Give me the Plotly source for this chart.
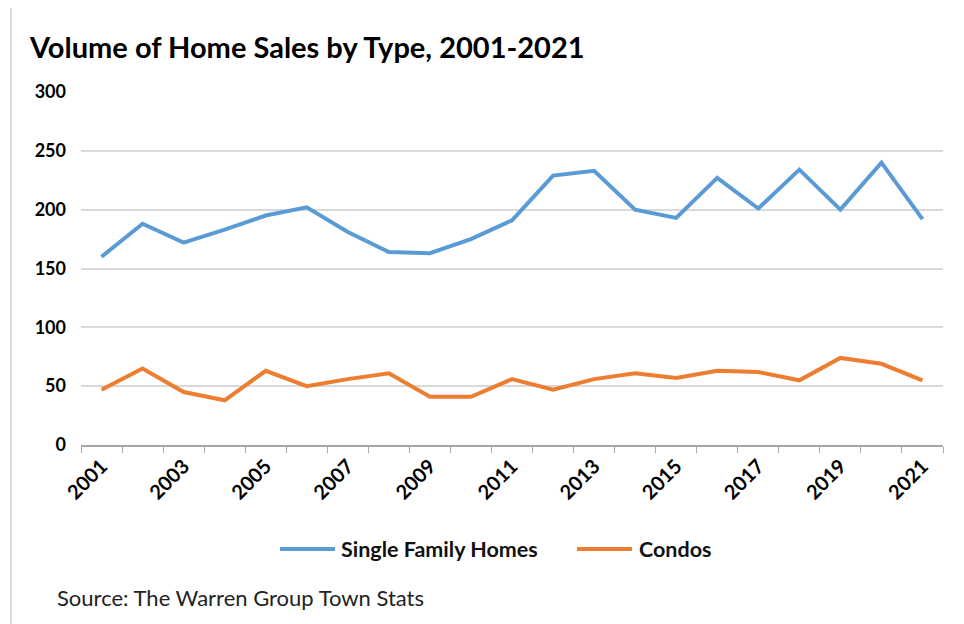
import plotly.graph_objects as go

years = [str(y) for y in range(2001, 2022)]
single_family = [160, 188, 172, 183, 195, 202, 181, 164, 163, 175, 191, 229, 233, 200, 193, 227, 201, 234, 200, 240, 192]
condos = [47, 65, 45, 38, 63, 50, 56, 61, 41, 41, 56, 47, 56, 61, 57, 63, 62, 55, 74, 69, 55]
y_ticks = [0, 50, 100, 150, 200, 250, 300]
series_names = ["Single Family Homes", "Condos"]
series_colors = ["#5B9BD5", "#ED7D31"]

FONT = "Lato, Open Sans, sans-serif"
xi = list(range(len(years)))

# page offset (body margin) compensation
OFF = 8
L, R_EDGE, T, B = 81, 943, 92, 445  # plot area in page px
PW, PH = R_EDGE - L, B - T

def px(x):
    return (x - L) / PW

def py(y):
    return (B - y) / PH

fig = go.Figure()
for name, vals, col in zip(series_names, [single_family, condos], series_colors):
    fig.add_trace(go.Scatter(x=xi, y=vals, mode="lines", name=name,
                             line=dict(color=col, width=4)))

fig.update_layout(
    width=964, height=624,
    margin=dict(l=L - OFF, r=964 - (R_EDGE - OFF), t=T - OFF, b=624 - (B - OFF)),
    paper_bgcolor="white", plot_bgcolor="white",
    font=dict(family=FONT, color="#000000"),
    title=dict(text="<b>Volume of Home Sales by Type, 2001-2021</b>", x=(30 - OFF) / 964, xanchor="left",
               xref="container", y=1 - (48 - OFF) / 624, yanchor="middle", font=dict(size=29, family=FONT)),
    showlegend=False,
)
fig.update_xaxes(
    range=[-0.5, 20.5], tickmode="array", tickvals=xi[::2], ticktext=[f"<b>{y}</b>" for y in years[::2]],
    tickangle=-45, tickfont=dict(size=20, family=FONT), ticks="", showgrid=False,
    showline=True, linecolor="#a6a6a6", linewidth=1.5,
    minor=dict(tickmode="linear", tick0=-0.5, dtick=1, ticks="outside", ticklen=6, tickcolor="#a6a6a6", showgrid=False),
    zeroline=False,
)
fig.update_yaxes(
    range=[0, 300], tickmode="array", tickvals=y_ticks, ticktext=[f"<b>{v}</b>" for v in y_ticks],
    tickfont=dict(size=18, family=FONT), showgrid=True, gridcolor="#d9d9d9", gridwidth=1.5,
    zeroline=False, ticks="", ticklabelstandoff=14,
)

# manual legend
legend_items = [(280, 335, 339), (577, 632, 637)]
for (x0, x1, tx), name, col in zip(legend_items, series_names, series_colors):
    fig.add_shape(type="line", xref="paper", yref="paper", x0=px(x0), x1=px(x1), y0=py(549), y1=py(549),
                  line=dict(color=col, width=4))
    fig.add_annotation(text=f"<b>{name}</b>", xref="paper", yref="paper", x=px(tx), y=py(549),
                       xanchor="left", yanchor="middle", showarrow=False,
                       font=dict(size=21.5, family=FONT, color="#111111"))

fig.add_annotation(text="Source: The Warren Group Town Stats", xref="paper", yref="paper",
                   x=px(55), y=py(597), xanchor="left", yanchor="middle", showarrow=False,
                   font=dict(size=22, family=FONT, color="#222222"))
fig.add_shape(type="rect", xref="paper", yref="paper", x0=px(11), x1=px(962),
              y0=py(640), y1=py(4), line=dict(color="#d0d0d0", width=1.5))

fig.write_html("out.html")
